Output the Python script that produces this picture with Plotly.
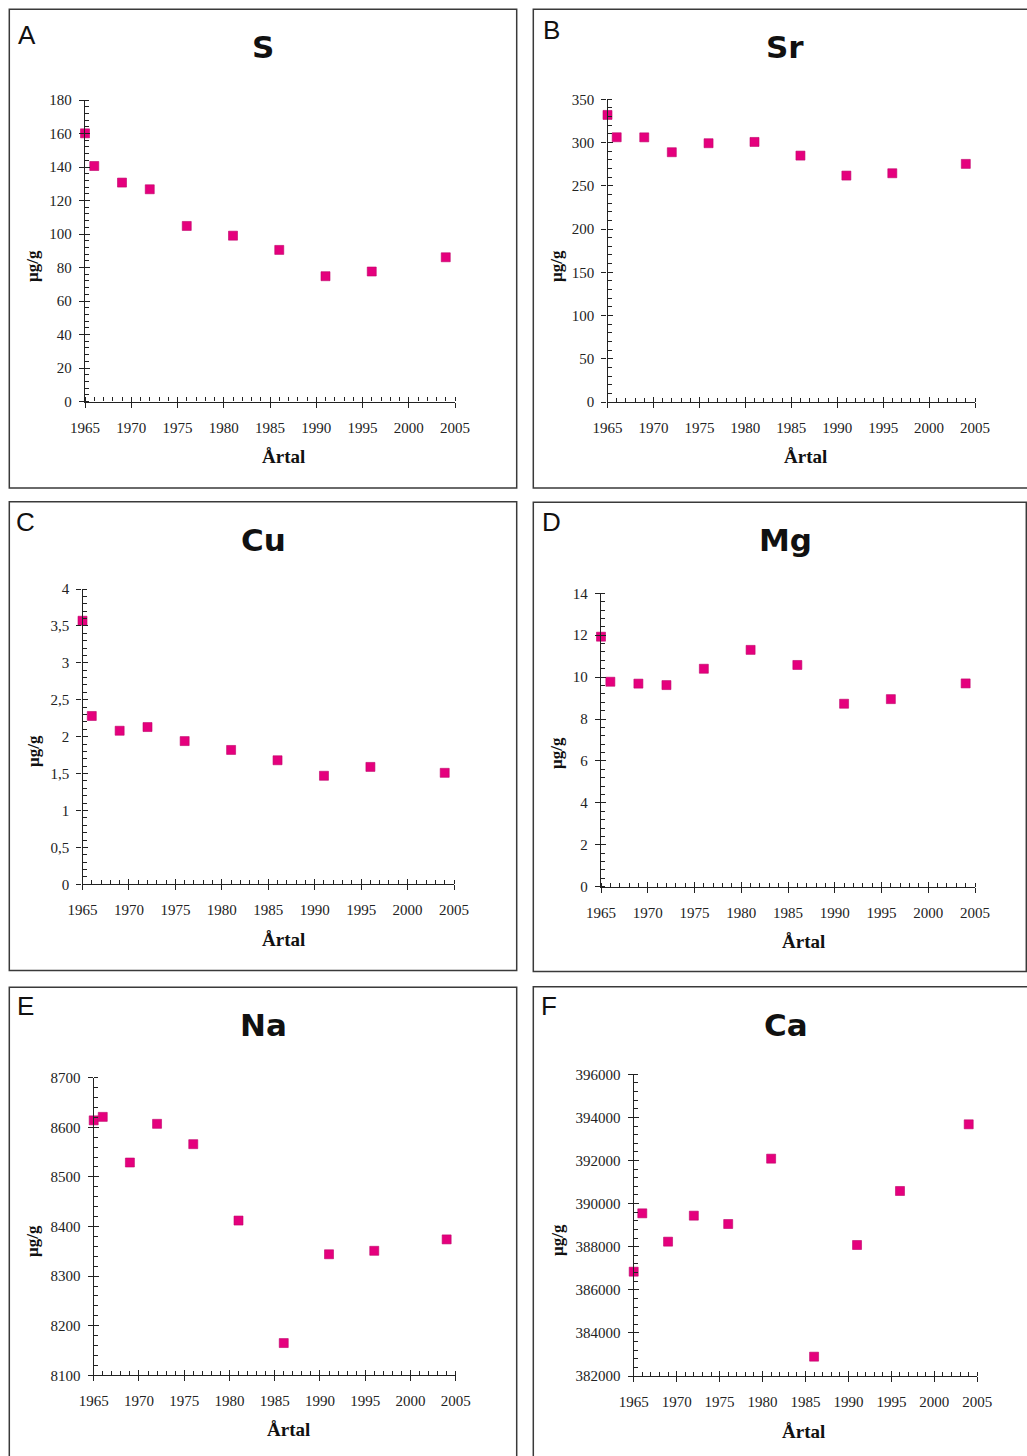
import plotly.graph_objects as go

W, H = 1027, 1456

# ---------------- data ----------------
years = [1965, 1966, 1969, 1972, 1976, 1981, 1986, 1991, 1996, 2004]

S_vals = [160.1, 140.6, 130.7, 126.7, 104.8, 99.0, 90.5, 74.8, 77.6, 86.1]
Sr_vals = [331.9, 306.1, 306.0, 288.8, 299.2, 300.7, 284.9, 261.8, 264.5, 275.3]
Cu_vals = [3.57, 2.28, 2.08, 2.13, 1.94, 1.82, 1.68, 1.47, 1.59, 1.51]
Mg_vals = [11.93, 9.78, 9.69, 9.62, 10.40, 11.30, 10.58, 8.73, 8.95, 9.70]
Na_vals = [8614, 8621, 8529, 8607, 8566, 8412, 8165, 8344, 8351, 8374]
Ca_vals = [386841, 389548, 388234, 389440, 389053, 392085, 382897, 388079, 390585, 393679]

x_ticks = [1965, 1970, 1975, 1980, 1985, 1990, 1995, 2000, 2005]

S_ticks = [0, 20, 40, 60, 80, 100, 120, 140, 160, 180]
Sr_ticks = [0, 50, 100, 150, 200, 250, 300, 350]
Cu_ticks = [0, 0.5, 1, 1.5, 2, 2.5, 3, 3.5, 4]
Cu_labels = ["0", "0,5", "1", "1,5", "2", "2,5", "3", "3,5", "4"]
Mg_ticks = [0, 2, 4, 6, 8, 10, 12, 14]
Na_ticks = [8100, 8200, 8300, 8400, 8500, 8600, 8700]
Ca_ticks = [382000, 384000, 386000, 388000, 390000, 392000, 394000, 396000]

panel_letters = ["A", "B", "C", "D", "E", "F"]
elements = ["S", "Sr", "Cu", "Mg", "Na", "Ca"]
series = [S_vals, Sr_vals, Cu_vals, Mg_vals, Na_vals, Ca_vals]
ytick_vals = [S_ticks, Sr_ticks, Cu_ticks, Mg_ticks, Na_ticks, Ca_ticks]
ytick_text = [[str(v) for v in S_ticks], [str(v) for v in Sr_ticks], Cu_labels,
              [str(v) for v in Mg_ticks], [str(v) for v in Na_ticks],
              [str(v) for v in Ca_ticks]]
x_title = "Årtal"
y_title = "µg/g"

# ---------------- layout geometry (pixels) ----------------
plot_px = [
    (85, 455, 100, 401.5),
    (607.5, 975, 99.3, 402),
    (82.5, 454, 589, 884.3),
    (601, 975, 593.3, 886.7),
    (93.7, 455.7, 1077.7, 1375.3),
    (633.7, 977.3, 1074.3, 1376),
]
box_px = [
    (9.3, 516.7, 9.3, 488),
    (533.3, 1032, 9.3, 488),
    (9.3, 516.7, 501.7, 970.5),
    (533.3, 1026.3, 502.3, 971.5),
    (9.3, 516.7, 987.3, 1462),
    (533.3, 1032, 986.7, 1462),
]
title_pos = [(263, 47), (785, 47), (263, 540), (785, 540), (263, 1025), (786, 1025)]
letter_pos = [(16, 35), (541, 30), (14, 522), (540, 522), (15, 1006), (539, 1006)]
ytitle_pos = [(32, 266), (556, 266), (33, 751), (556, 753), (32, 1241), (557, 1240)]
xtitle_pos = [(283, 456), (805, 456), (283, 939), (803, 941), (288, 1429), (803, 1431)]


def px_x(x):
    return x / W


def px_y(y):
    return 1 - y / H


PINK = "#e5007d"
SERIF = "Liberation Serif"
AXC = "#222"

fig = go.Figure()
shapes = []
annotations = []

for i in range(6):
    n = i + 1
    xa = "x" if n == 1 else f"x{n}"
    ya = "y" if n == 1 else f"y{n}"
    xkey = "xaxis" if n == 1 else f"xaxis{n}"
    ykey = "yaxis" if n == 1 else f"yaxis{n}"
    # overlay axes carrying the inner half of the crossing major ticks
    on = n + 6
    oxa, oya = f"x{on}", f"y{on}"
    oxkey, oykey = f"xaxis{on}", f"yaxis{on}"

    fig.add_trace(go.Scatter(
        x=years, y=series[i], mode="markers", xaxis=xa, yaxis=ya,
        marker=dict(symbol="square", size=9, color=PINK,
                    line=dict(color="#c0006a", width=0.6)),
        cliponaxis=False, showlegend=False, hoverinfo="x+y",
    ))
    fig.add_trace(go.Scatter(x=[None], y=[None], mode="markers",
                             xaxis=oxa, yaxis=oya, showlegend=False,
                             hoverinfo="skip"))

    xl, xr, yt, yb = plot_px[i]
    yv = ytick_vals[i]
    ydt = (yv[1] - yv[0]) / 5.0
    xdom = [px_x(xl), px_x(xr)]
    ydom = [px_y(yb), px_y(yt)]
    fig.layout[xkey] = dict(
        domain=xdom, anchor=ya, range=[1965, 2005],
        tickmode="array", tickvals=x_ticks, ticktext=[str(v) for v in x_ticks],
        ticks="outside", ticklen=5, tickwidth=1.2, tickcolor=AXC,
        showline=True, linecolor=AXC, linewidth=1.3,
        showgrid=False, zeroline=False, fixedrange=True, automargin=False,
        tickfont=dict(family=SERIF, size=15, color=AXC),
        ticklabelstandoff=7,
        minor=dict(dtick=1, tick0=1965, ticks="inside", ticklen=4,
                   tickwidth=1, tickcolor=AXC, showgrid=False),
    )
    fig.layout[ykey] = dict(
        domain=ydom, anchor=xa, range=[yv[0], yv[-1]],
        tickmode="array", tickvals=yv, ticktext=ytick_text[i],
        ticks="outside", ticklen=5, tickwidth=1.2, tickcolor=AXC,
        showline=True, linecolor=AXC, linewidth=1.3,
        showgrid=False, zeroline=False, fixedrange=True, automargin=False,
        tickfont=dict(family=SERIF, size=15, color=AXC),
        ticklabelstandoff=4,
        minor=dict(dtick=ydt, tick0=yv[0], ticks="inside", ticklen=4,
                   tickwidth=1, tickcolor=AXC, showgrid=False),
    )
    fig.layout[oxkey] = dict(
        domain=xdom, anchor=oya, range=[1965, 2005],
        tickmode="array", tickvals=x_ticks, showticklabels=False,
        ticks="inside", ticklen=5, tickwidth=1.2, tickcolor=AXC,
        showline=False, showgrid=False, zeroline=False, fixedrange=True,
        automargin=False,
    )
    fig.layout[oykey] = dict(
        domain=ydom, anchor=oxa, range=[yv[0], yv[-1]],
        tickmode="array", tickvals=yv, showticklabels=False,
        ticks="inside", ticklen=5, tickwidth=1.2, tickcolor=AXC,
        showline=False, showgrid=False, zeroline=False, fixedrange=True,
        automargin=False,
    )

    bx0, bx1, by0, by1 = box_px[i]
    shapes.append(dict(type="rect", xref="paper", yref="paper",
                       x0=px_x(bx0), x1=px_x(bx1), y0=px_y(by1), y1=px_y(by0),
                       line=dict(color="#3a3a3a", width=1.5), layer="below"))
    tx, ty = title_pos[i]
    annotations.append(dict(text=f"<b>{elements[i]}</b>", x=px_x(tx), y=px_y(ty),
                            xref="paper", yref="paper", showarrow=False,
                            xanchor="center", yanchor="middle",
                            font=dict(family="DejaVu Sans", size=31, color="#111")))
    lx, ly = letter_pos[i]
    annotations.append(dict(text=panel_letters[i], x=px_x(lx), y=px_y(ly),
                            xref="paper", yref="paper", showarrow=False,
                            xanchor="left", yanchor="middle",
                            font=dict(family="Liberation Sans", size=26, color="#111")))
    yx, yy = ytitle_pos[i]
    annotations.append(dict(text=f"<b>{y_title}</b>", x=px_x(yx), y=px_y(yy),
                            xref="paper", yref="paper", showarrow=False,
                            xanchor="center", yanchor="middle", textangle=-90,
                            font=dict(family=SERIF, size=17, color="#111")))
    ax_, ay_ = xtitle_pos[i]
    annotations.append(dict(text=f"<b>{x_title}</b>", x=px_x(ax_), y=px_y(ay_),
                            xref="paper", yref="paper", showarrow=False,
                            xanchor="center", yanchor="middle",
                            font=dict(family=SERIF, size=19, color="#111")))

fig.update_layout(
    width=W, height=H,
    margin=dict(l=0, r=0, t=0, b=0, pad=0, autoexpand=False),
    paper_bgcolor="white", plot_bgcolor="rgba(0,0,0,0)",
    shapes=shapes, annotations=annotations, showlegend=False,
)

fig.write_html(
    "out.html",
    config={"displayModeBar": False},
    post_script="document.body.style.margin='0';document.body.style.padding='0';"
                "document.documentElement.style.overflow='hidden';"
                "document.body.style.overflow='hidden';",
)
